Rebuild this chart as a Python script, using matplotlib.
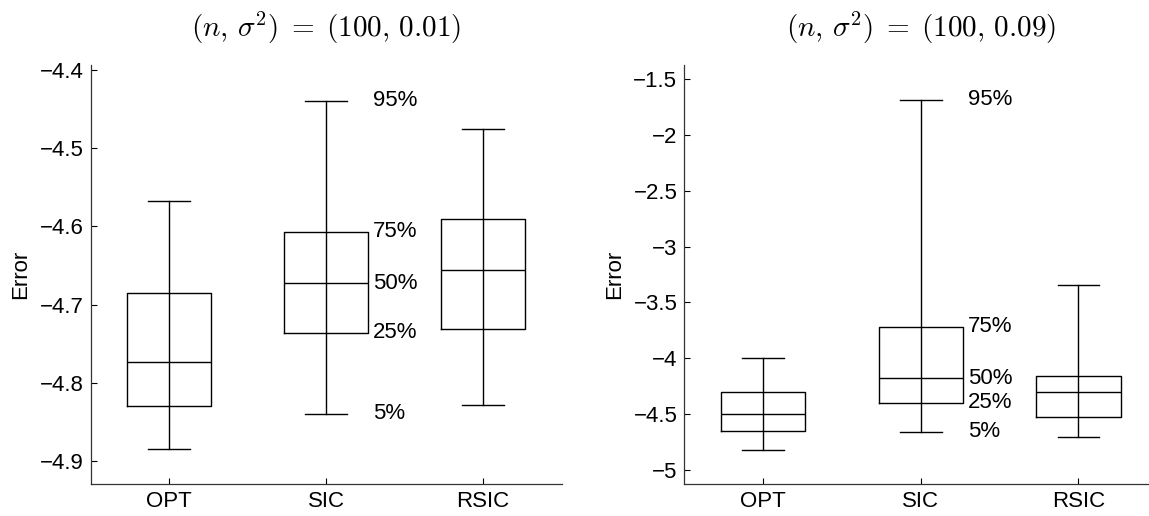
import matplotlib
matplotlib.use('Agg')
import matplotlib.pyplot as plt
from matplotlib.ticker import FuncFormatter, MultipleLocator

plt.rcParams['font.family'] = ['Liberation Sans', 'DejaVu Sans']
plt.rcParams['mathtext.fontset'] = 'cm'

methods = ['OPT', 'SIC', 'RSIC']
pct_names = ['5%', '25%', '50%', '75%', '95%']

# percentiles (5, 25, 50, 75, 95) per method
left_title = r'$(n,\,\sigma^2)\;=\;(100,\,0.01)$'
left_p5 = [-4.885, -4.840, -4.829]
left_p25 = [-4.830, -4.736, -4.731]
left_p50 = [-4.773, -4.673, -4.656]
left_p75 = [-4.685, -4.607, -4.591]
left_p95 = [-4.568, -4.439, -4.4755]

right_title = r'$(n,\,\sigma^2)\;=\;(100,\,0.09)$'
right_p5 = [-4.819, -4.658, -4.702]
right_p25 = [-4.654, -4.398, -4.529]
right_p50 = [-4.496, -4.177, -4.305]
right_p75 = [-4.305, -3.717, -4.156]
right_p95 = [-3.995, -1.688, -3.344]


def fmt(v, pos):
    return ('%g' % round(v, 3)).replace('-', '\u2212')


def draw(ax, title, p5, p25, p50, p75, p95, ylim, step):
    stats = []
    for i in range(len(methods)):
        stats.append(dict(whislo=p5[i], q1=p25[i], med=p50[i], q3=p75[i],
                          whishi=p95[i], fliers=[]))
    pos = list(range(1, len(methods) + 1))
    lp = dict(color='black', linewidth=1.0)
    ax.bxp(stats, positions=pos, widths=0.535, capwidths=0.265,
           showfliers=False, boxprops=lp, whiskerprops=lp, capprops=lp,
           medianprops=lp)
    # whisker line runs through the box too
    ax.vlines(pos, p25, p75, color='black', linewidth=1.0)

    # percentile labels next to SIC
    for name, v in zip(pct_names, [p5[1], p25[1], p50[1], p75[1], p95[1]]):
        ax.text(2.3, v, name, ha='left', va='center', fontsize=16)

    ax.set_xlim(0.5, 3.5)
    ax.set_ylim(*ylim)
    ax.set_xticks(pos)
    ax.set_xticklabels(methods)
    ax.yaxis.set_major_locator(MultipleLocator(step))
    ax.yaxis.set_major_formatter(FuncFormatter(fmt))
    ax.tick_params(direction='in', length=4, width=0.8, labelsize=16, pad=5)
    for s in ['top', 'right']:
        ax.spines[s].set_visible(False)
    for s in ['left', 'bottom']:
        ax.spines[s].set_color('#333333')
        ax.spines[s].set_linewidth(0.9)
    ax.set_ylabel('Error', fontsize=16, labelpad=6)
    ax.set_title(title, fontsize=21, pad=20)


fig = plt.figure(figsize=(11.49, 5.16), dpi=100)
ax1 = fig.add_axes([0.0788, 0.0614, 0.4099, 0.8126])
ax2 = fig.add_axes([0.5955, 0.0614, 0.4117, 0.8126])

draw(ax1, left_title, left_p5, left_p25, left_p50, left_p75, left_p95,
     (-4.930, -4.3936), 0.1)
draw(ax2, right_title, right_p5, right_p25, right_p50, right_p75, right_p95,
     (-5.128, -1.375), 0.5)

fig.savefig('out.png', dpi=100)
